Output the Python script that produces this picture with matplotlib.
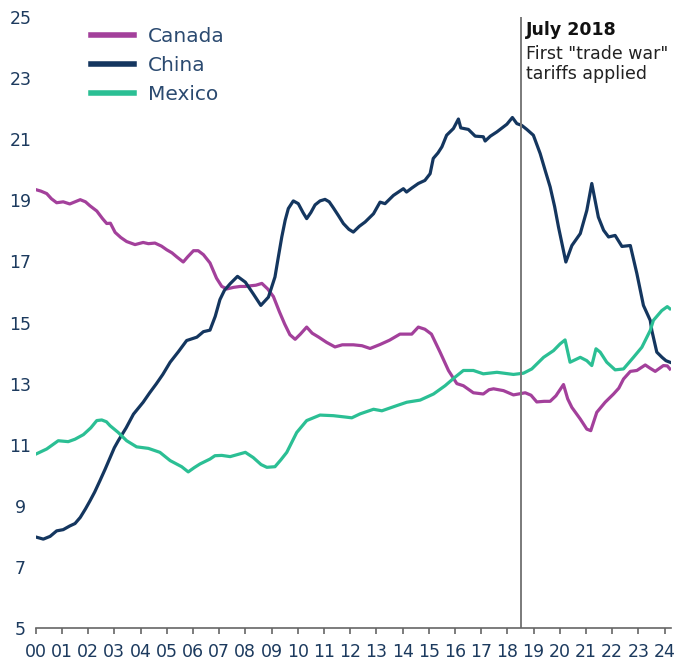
import matplotlib
matplotlib.use("Agg")
import matplotlib.pyplot as plt
import numpy as np

# share of US goods imports (%)
canada_x = [2000.0, 2000.2, 2000.42, 2000.6, 2000.8, 2001.05, 2001.3, 2001.5, 2001.7, 2001.9,
            2002.07, 2002.33, 2002.55, 2002.71, 2002.85, 2003.03, 2003.25, 2003.47, 2003.79, 2004.1,
            2004.3, 2004.55, 2004.8, 2005.0, 2005.2, 2005.38, 2005.63, 2005.8, 2006.02, 2006.2,
            2006.4, 2006.65, 2006.9, 2007.1, 2007.3, 2007.55, 2007.8, 2008.0, 2008.18, 2008.4,
            2008.63, 2008.85, 2009.07, 2009.3, 2009.5, 2009.7, 2009.9, 2010.1, 2010.34, 2010.55,
            2010.8, 2011.1, 2011.42, 2011.7, 2012.12, 2012.45, 2012.76, 2013.14, 2013.5, 2013.9,
            2014.35, 2014.6, 2014.85, 2015.1, 2015.43, 2015.75, 2016.07, 2016.32, 2016.7, 2017.08,
            2017.3, 2017.47, 2017.85, 2018.23, 2018.68, 2018.9, 2019.12, 2019.4, 2019.63, 2019.85,
            2020.14, 2020.3, 2020.46, 2020.78, 2021.03, 2021.18, 2021.41, 2021.73, 2022.05, 2022.25,
            2022.43, 2022.69, 2022.94, 2023.26, 2023.45, 2023.64, 2023.95, 2024.1, 2024.2]
canada_y = [19.35, 19.30, 19.22, 19.05, 18.92, 18.95, 18.88, 18.95, 19.02, 18.95,
            18.82, 18.65, 18.40, 18.24, 18.25, 17.95, 17.78, 17.65, 17.55, 17.62,
            17.58, 17.60, 17.50, 17.38, 17.28, 17.15, 16.98, 17.15, 17.35, 17.35,
            17.22, 16.95, 16.45, 16.18, 16.10, 16.15, 16.18, 16.18, 16.20, 16.22,
            16.28, 16.10, 15.85, 15.35, 14.95, 14.60, 14.45, 14.62, 14.85, 14.65,
            14.52, 14.35, 14.20, 14.27, 14.27, 14.24, 14.15, 14.28, 14.42, 14.62,
            14.62, 14.85, 14.78, 14.62, 14.03, 13.43, 13.00, 12.93, 12.70, 12.66,
            12.80, 12.83, 12.77, 12.63, 12.70, 12.62, 12.40, 12.42, 12.42, 12.60,
            12.97, 12.50, 12.22, 11.84, 11.51, 11.46, 12.06, 12.39, 12.66, 12.85,
            13.15, 13.40, 13.43, 13.61, 13.50, 13.40, 13.59, 13.58, 13.48]

china_x = [2000.0, 2000.29, 2000.55, 2000.8, 2001.05, 2001.3, 2001.5, 2001.7, 2001.9, 2002.07,
           2002.25, 2002.45, 2002.65, 2002.84, 2003.0, 2003.15, 2003.45, 2003.73, 2004.1, 2004.35,
           2004.6, 2004.85, 2005.13, 2005.45, 2005.76, 2006.15, 2006.4, 2006.65, 2006.85, 2007.03,
           2007.2, 2007.42, 2007.7, 2008.0, 2008.3, 2008.59, 2008.88, 2009.13, 2009.25, 2009.39,
           2009.52, 2009.64, 2009.83, 2010.02, 2010.2, 2010.34, 2010.5, 2010.66, 2010.85, 2011.04,
           2011.2, 2011.36, 2011.55, 2011.74, 2011.95, 2012.12, 2012.35, 2012.57, 2012.89, 2013.14,
           2013.33, 2013.65, 2014.03, 2014.15, 2014.35, 2014.6, 2014.85, 2015.05, 2015.17, 2015.35,
           2015.5, 2015.68, 2015.94, 2016.13, 2016.22, 2016.51, 2016.77, 2017.08, 2017.15, 2017.35,
           2017.6, 2017.98, 2018.19, 2018.36, 2018.55, 2018.74, 2018.99, 2019.25, 2019.45, 2019.63,
           2019.8, 2019.95, 2020.23, 2020.46, 2020.78, 2021.03, 2021.22, 2021.47, 2021.67, 2021.86,
           2022.11, 2022.37, 2022.69, 2022.94, 2023.19, 2023.45, 2023.51, 2023.7, 2023.9, 2024.05,
           2024.2]
china_y = [7.98, 7.91, 8.00, 8.18, 8.22, 8.34, 8.42, 8.62, 8.90, 9.16,
           9.45, 9.82, 10.20, 10.58, 10.90, 11.13, 11.55, 12.00, 12.39, 12.70,
           12.99, 13.30, 13.70, 14.05, 14.41, 14.52, 14.70, 14.75, 15.20, 15.75,
           16.05, 16.27, 16.51, 16.32, 15.94, 15.56, 15.83, 16.49, 17.10, 17.80,
           18.35, 18.73, 18.98, 18.89, 18.60, 18.40, 18.60, 18.85, 18.98, 19.03,
           18.95, 18.75, 18.50, 18.24, 18.05, 17.96, 18.15, 18.29, 18.56, 18.94,
           18.89, 19.16, 19.38, 19.27, 19.40, 19.55, 19.65, 19.87, 20.37, 20.55,
           20.75, 21.13, 21.35, 21.66, 21.37, 21.32, 21.10, 21.08, 20.94, 21.10,
           21.24, 21.49, 21.71, 21.51, 21.45, 21.32, 21.13, 20.53, 19.95, 19.44,
           18.80, 18.12, 16.98, 17.52, 17.91, 18.67, 19.55, 18.45, 18.02, 17.80,
           17.85, 17.49, 17.52, 16.60, 15.56, 15.07, 14.74, 14.03, 13.86, 13.75,
           13.70]

mexico_x = [2000.0, 2000.42, 2000.86, 2001.24, 2001.5, 2001.82, 2002.1, 2002.33, 2002.52, 2002.7,
            2002.84, 2003.15, 2003.47, 2003.85, 2004.3, 2004.74, 2005.13, 2005.57, 2005.82, 2006.05,
            2006.27, 2006.65, 2006.84, 2007.1, 2007.42, 2008.0, 2008.3, 2008.6, 2008.82, 2009.13,
            2009.35, 2009.58, 2009.96, 2010.34, 2010.85, 2011.36, 2011.87, 2012.06, 2012.38, 2012.89,
            2013.21, 2013.78, 2014.16, 2014.67, 2015.18, 2015.62, 2016.0, 2016.32, 2016.7, 2017.08,
            2017.6, 2018.23, 2018.61, 2018.93, 2019.38, 2019.76, 2020.01, 2020.2, 2020.39, 2020.78,
            2021.03, 2021.22, 2021.38, 2021.54, 2021.79, 2022.11, 2022.43, 2022.81, 2023.13, 2023.45,
            2023.57, 2023.89, 2024.1, 2024.2]
mexico_y = [10.69, 10.86, 11.13, 11.10, 11.18, 11.33, 11.55, 11.79, 11.81, 11.75,
            11.62, 11.40, 11.13, 10.93, 10.88, 10.75, 10.48, 10.28, 10.11, 10.25,
            10.37, 10.53, 10.64, 10.65, 10.61, 10.75, 10.58, 10.35, 10.26, 10.28,
            10.50, 10.75, 11.40, 11.79, 11.97, 11.95, 11.90, 11.88, 12.01, 12.16,
            12.11, 12.28, 12.39, 12.46, 12.66, 12.93, 13.21, 13.43, 13.43, 13.32,
            13.37, 13.30, 13.34, 13.48, 13.86, 14.08, 14.30, 14.43, 13.70, 13.86,
            13.75, 13.59, 14.14, 14.03, 13.70, 13.45, 13.48, 13.86, 14.19, 14.74,
            15.07, 15.39, 15.52, 15.45]

years = list(range(2000, 2025))
year_labels = ["%02d" % (y % 100) for y in years]
yticks = [5, 7, 9, 11, 13, 15, 17, 19, 21, 23, 25]

navy = "#1c3a5e"
c_canada = "#a3409b"
c_china = "#14365f"
c_mexico = "#2bbf94"

fig = plt.figure(figsize=(6.96, 6.61), dpi=100)
ax = fig.add_axes([0.0513, 0.0499, 0.9127, 0.9244])

ax.plot(canada_x, canada_y, color=c_canada, lw=2.3, label="Canada", solid_joinstyle="round")
ax.plot(china_x, china_y, color=c_china, lw=2.3, label="China", solid_joinstyle="round")
ax.plot(mexico_x, mexico_y, color=c_mexico, lw=2.3, label="Mexico", solid_joinstyle="round")

# July 2018 marker
ax.axvline(2018.5, color="#7a7a7a", lw=1.4)
ax.text(2018.7, 24.87, "July 2018", fontsize=12.5, fontweight="bold", color="#111111", va="top")
ax.text(2018.7, 24.08, 'First "trade war"\ntariffs applied', fontsize=12.5, color="#222222",
        va="top", linespacing=1.15)

ax.set_xlim(2000, 2024.24)
ax.set_ylim(5, 25)
ax.set_xticks(years)
ax.set_xticklabels(year_labels)
ax.set_yticks(yticks)

for s in ["top", "right", "left"]:
    ax.spines[s].set_visible(False)
ax.spines["bottom"].set_color("#666666")
ax.spines["bottom"].set_linewidth(1.2)

ax.tick_params(axis="x", length=4, width=1.2, color="#666666", labelsize=12.5,
               labelcolor=navy, pad=7)
ax.tick_params(axis="y", length=0, labelsize=12.5, labelcolor=navy, pad=11)
for lab in ax.get_yticklabels():
    lab.set_horizontalalignment("center")

leg = ax.legend(loc="upper left", bbox_to_anchor=(0.087, 0.983), frameon=False,
                fontsize=14.5, handlelength=2.15, handletextpad=0.7, labelspacing=0.48,
                borderaxespad=0, borderpad=0)
for line in leg.get_lines():
    line.set_linewidth(4)
for t in leg.get_texts():
    t.set_color("#2b4a70")

fig.savefig("out.png", dpi=100)
